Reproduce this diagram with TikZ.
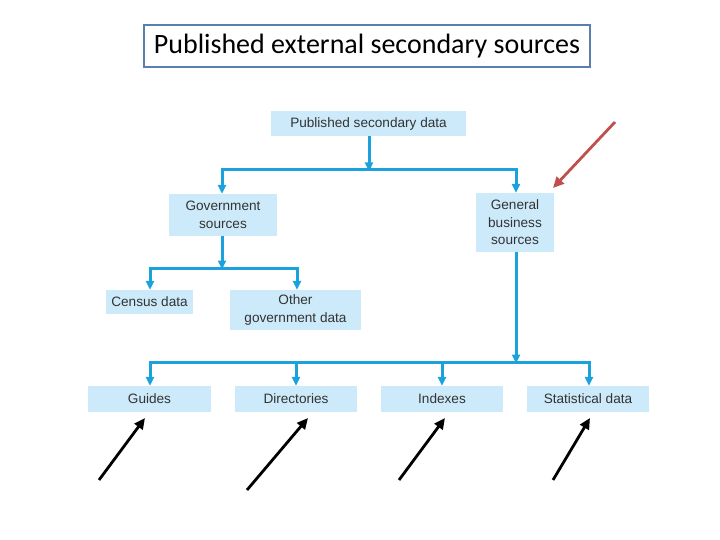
\documentclass[tikz,border=0pt]{standalone}
\usepackage{fontspec}
\setmainfont{Liberation Sans}
\newfontfamily\titlefont{Carlito}
\usetikzlibrary{arrows.meta}
\definecolor{boxfill}{HTML}{CDEAFA}
\definecolor{linecol}{HTML}{1BA1DC}
\definecolor{txtcol}{HTML}{333333}
\definecolor{titleborder}{HTML}{5A7FAE}
\definecolor{redarrow}{HTML}{C0504D}
\tikzset{
  box/.style={fill=boxfill, draw=none, inner sep=0pt, text=txtcol, font=\fontsize{13.6}{17.5}\selectfont, align=center},
  conn/.style={draw=linecol, line width=3pt, -{Triangle[length=9pt,width=8pt]}},
  bar/.style={draw=linecol, line width=3pt},
  pointer/.style={draw=black, line width=2.8pt, -{Triangle[length=11pt,width=10pt]}},
  redpointer/.style={draw=redarrow, line width=2.8pt, -{Triangle[length=11pt,width=10pt]}}
}
\begin{document}
\begin{tikzpicture}[x=1pt,y=-1pt]
\useasboundingbox (0,0) rectangle (720,540);
% title
\node[draw=titleborder, line width=2.6pt, minimum width=446pt, minimum height=42pt, inner sep=0pt, font=\titlefont\fontsize{28}{32}\selectfont] (title) at (367,46) {Published external secondary sources};
% boxes
\node[box, minimum width=195pt, minimum height=25pt] (psd) at (368.5,123.5) {Published secondary data};
\node[box, minimum width=108pt, minimum height=42pt] (gov) at (223,215) {Government\\sources};
\node[box, minimum width=78pt, minimum height=59pt] (gen) at (515,222.5) {General\\business\\sources};
\node[box, minimum width=87pt, minimum height=24pt] (census) at (149.5,302) {Census data};
\node[box, minimum width=131pt, minimum height=40pt] (other) at (295.5,310) {Other\\government data};
\node[box, minimum width=123pt, minimum height=26pt] (guides) at (149.5,399) {Guides};
\node[box, minimum width=122pt, minimum height=26pt] (dirs) at (296,399) {Directories};
\node[box, minimum width=122pt, minimum height=26pt] (idx) at (442,399) {Indexes};
\node[box, minimum width=122pt, minimum height=26pt] (stat) at (588,399) {Statistical data};
% junction coordinates
\coordinate (j1) at (369,170);
\coordinate (j1l) at (222,170);
\coordinate (j1r) at (516,170);
\coordinate (j2) at (222,268);
\coordinate (j2l) at (150,268);
\coordinate (j2r) at (297,268);
\coordinate (j3) at (516,362);
\coordinate (j3l) at (150,362);
\coordinate (j3r) at (589,362);
% connectors
\draw[conn] (psd.south -| j1) -- ([yshift=-1.5pt]j1);
\draw[bar] ([xshift=-1.5pt]j1l) -- ([xshift=1.5pt]j1r);
\draw[conn] (j1l) -- (gov.north -| j1l);
\draw[conn] (j1r) -- (gen.north -| j1r);
\draw[conn] (gov.south -| j2) -- ([yshift=-1.5pt]j2);
\draw[bar] ([xshift=-1.5pt]j2l) -- ([xshift=1.5pt]j2r);
\draw[conn] (j2l) -- (census.north -| j2l);
\draw[conn] (j2r) -- (other.north -| j2r);
\draw[conn] (gen.south -| j3) -- ([yshift=-1.5pt]j3);
\draw[bar] ([xshift=-1.5pt]j3l) -- ([xshift=1.5pt]j3r);
\draw[conn] (j3l) -- (guides.north -| j3l);
\draw[conn] (296,362) -- (dirs.north -| 296,0);
\draw[conn] (442,362) -- (idx.north -| 442,0);
\draw[conn] (j3r) -- (stat.north -| j3r);
% pointer arrows
\coordinate (p1) at (99,480);
\coordinate (p2) at (247,490);
\coordinate (p3) at (399,480);
\coordinate (p4) at (553,480);
\coordinate (pr) at (615,122);
\draw[pointer] (p1) -- (145,418);
\draw[pointer] (p2) -- (308,418);
\draw[pointer] (p3) -- (445,418);
\draw[pointer] (p4) -- (590,418);
\draw[redpointer] (pr) -- (553,188);
\end{tikzpicture}
\end{document}
